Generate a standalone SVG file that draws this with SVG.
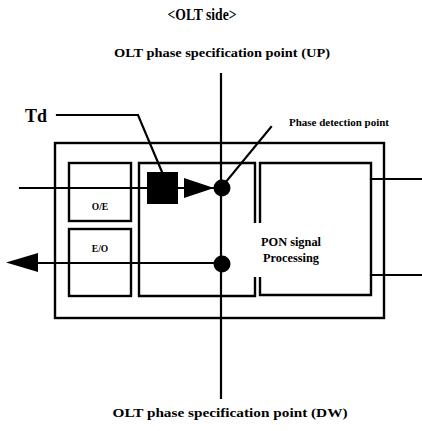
<svg xmlns="http://www.w3.org/2000/svg" width="422" height="431" viewBox="0 0 422 431">
<style>
.ln{fill:none;stroke:#000;stroke-width:2.2;stroke-linecap:square}
.box{fill:none;stroke:#000;stroke-width:2.4}
.blk{fill:#000;stroke:none}
.t{font-family:"Liberation Serif","Times New Roman",serif;font-weight:bold;fill:#000}
</style>
<rect width="422" height="431" fill="#fff"/>
<g id="titles">
<text class="t" x="202" y="20" font-size="16" text-anchor="middle" textLength="69" lengthAdjust="spacingAndGlyphs">&lt;OLT side&gt;</text>
<text class="t" x="222" y="57" font-size="12.5" text-anchor="middle" textLength="216" lengthAdjust="spacingAndGlyphs">OLT phase specification point (UP)</text>
<text class="t" x="230" y="417" font-size="13.5" text-anchor="middle" textLength="235" lengthAdjust="spacingAndGlyphs">OLT phase specification point (DW)</text>
</g>
<g id="outer-box"><rect class="box" x="55" y="143" width="329" height="175"/></g>
<g id="oe"><rect class="box" x="69" y="163" width="62" height="58"/>
<text class="t" x="100" y="210" font-size="9.5" text-anchor="middle">O/E</text></g>
<g id="eo"><rect class="box" x="69" y="229" width="62" height="67"/>
<text class="t" x="100" y="252" font-size="9.5" text-anchor="middle">E/O</text></g>
<g id="middle-box"><path class="box" d="M255,223 V163 H139 V296 H255 V277"/></g>
<g id="pon"><path class="box" d="M260,223 V163 H371 V295 H260 V277"/>
<text class="t" x="261" y="246" font-size="12.5" textLength="60" lengthAdjust="spacingAndGlyphs">PON signal</text>
<text class="t" x="263" y="262" font-size="12.5" textLength="56" lengthAdjust="spacingAndGlyphs">Processing</text></g>
<g id="td-label"><text class="t" x="25" y="122" font-size="18" textLength="22" lengthAdjust="spacingAndGlyphs">Td</text></g>
<g id="phase-label"><text class="t" x="289" y="126" font-size="9.5" textLength="100" lengthAdjust="spacingAndGlyphs">Phase detection point</text></g>
<g id="connectors">
<line class="ln" x1="221" y1="74" x2="221" y2="398"/>
<line class="ln" x1="20" y1="188" x2="213" y2="188"/>
<line class="ln" x1="36" y1="263" x2="221" y2="263"/>
<line class="ln" x1="371" y1="179" x2="421" y2="179"/>
<line class="ln" x1="371" y1="275" x2="421" y2="275"/>
<polyline class="ln" points="57,115 138,115 162,172"/>
<line class="ln" x1="271" y1="127" x2="225" y2="183"/>
<polygon class="blk" points="38,253 38,272 6,262.5"/>
</g>
<g id="td-delay"><rect class="blk" x="147" y="172" width="31" height="32"/></g>
<g id="amp"><polygon class="blk" points="184,178 184,198 214,188"/></g>
<g id="dot-up"><circle class="blk" cx="222" cy="188" r="8.5"/></g>
<g id="dot-dw"><circle class="blk" cx="222" cy="264" r="8.5"/></g>
</svg>
